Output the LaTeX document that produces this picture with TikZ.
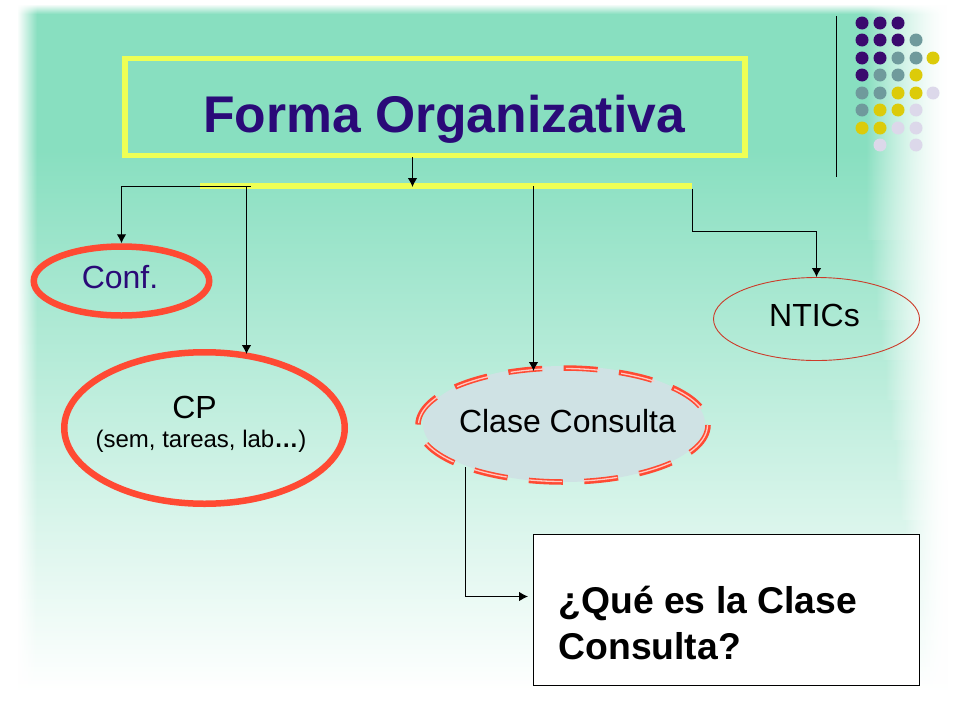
\documentclass[tikz,border=0pt]{standalone}
\usepackage{fontspec}
\setmainfont{Liberation Sans}
\usetikzlibrary{arrows.meta,shapes.geometric}
\definecolor{teal1}{HTML}{88DFC0}
\definecolor{yel}{HTML}{EEFF55}
\definecolor{red1}{HTML}{FF4A33}
\definecolor{navy1}{HTML}{2A0A78}
\definecolor{dA}{HTML}{3A0A6E}
\definecolor{dB}{HTML}{6F9A9C}
\definecolor{dC}{HTML}{DCCB0A}
\definecolor{dD}{HTML}{DCD8EA}
\definecolor{bub}{HTML}{CFE2E4}
\tikzset{
  link/.style={draw=black,line width=1pt},
  arr/.style={link,-{Latex[length=9pt,width=9.5pt]}},
  dotA/.style={circle,fill=dA,minimum size=13pt,inner sep=0pt},
  dotB/.style={circle,fill=dB,minimum size=13pt,inner sep=0pt},
  dotC/.style={circle,fill=dC,minimum size=13pt,inner sep=0pt},
  dotD/.style={circle,fill=dD,minimum size=13pt,inner sep=0pt},
  txt/.style={text=black,font=\fontsize{32}{36}\selectfont},
  dashring/.style={dash pattern=on 34pt off 21.5pt}
}
\begin{document}
\begin{tikzpicture}[x=1pt,y=-1pt]
\useasboundingbox (0,0) rectangle (960,720);
\fill[white] (0,0) rectangle (960,720);
% background
\fill[teal1] (0,0) rectangle (960,150);
\shade[top color=teal1,bottom color=white] (0,150) rectangle (960,692);
\fill[white] (0,691) rectangle (960,720);
% fades
\foreach \i in {0,...,19} {\pgfmathsetmacro{\op}{1-\i/20}\fill[white,opacity=\op] ({17+\i},0) rectangle ({18+\i},720);}
\fill[white] (0,0) rectangle (17,720);
\foreach \i in {0,...,9} {\pgfmathsetmacro{\op}{1-\i/10}\fill[white,opacity=\op] (0,{4+\i}) rectangle (960,{5+\i});}
\fill[white] (0,0) rectangle (960,4);
\foreach \b in {0,...,17} {
  \pgfmathsetmacro{\ya}{\b*40}
  \pgfmathsetmacro{\sx}{866+max(0,\ya-200)*0.12}
  \foreach \x in {866,...,950} {
    \pgfmathsetmacro{\tt}{max(0,min(1,(\x-\sx)/(948-\sx)))}
    \pgfmathsetmacro{\op}{1-(1-\tt)^1.6}
    \fill[white,opacity=\op] (\x,\ya) rectangle (\x+1,\ya+40);
  }
}
\fill[white] (950,0) rectangle (960,720);
% title
\node[draw=yel,line width=5.5pt,minimum width=620pt,minimum height=97pt,inner sep=0pt] (title) at (435,107) {};
\node[text=navy1,font=\bfseries\fontsize{51.6}{56}\selectfont] (ttxt) at (444,119) {Forma Organizativa};
\coordinate (barL) at (200,186);
\coordinate (barR) at (692,186);
\draw[yel,line width=5.5pt] (barL) -- (barR);
% right rule
\coordinate (ruleT) at (836.5,16);
\coordinate (ruleB) at (836.5,177);
\draw[black,line width=1pt] (ruleT) -- (ruleB);
% dots
\foreach \x/\y/\s in {862/23/A,880/23/A,898/23/A,
 862/40/A,880/40/A,898/40/A,916/40/B,
 862/58/A,880/58/A,898/58/B,916/58/B,933/58/C,
 862/75/A,880/75/B,898/75/B,916/75/C,
 862/93/B,880/93/B,898/93/C,916/93/C,933/93/D,
 862/110/B,880/110/C,898/110/C,916/110/D,
 862/128/C,880/128/C,898/128/D,916/128/D,
 880/145/D,916/145/D}
  \node[dot\s] (d\x\y) at (\x,\y) {};
% nodes
\node[ellipse,draw=red1,line width=6.5pt,minimum width=175.5pt,minimum height=69pt,inner sep=0pt] (conf) at (121.5,281) {};
\node[text=navy1,font=\fontsize{32}{36}\selectfont] (conft) at (120,277) {Conf.};
\node[ellipse,draw=red1,line width=6.5pt,minimum width=280.5pt,minimum height=151.5pt,inner sep=0pt] (cp) at (204.5,428) {};
\node[txt] (cpt) at (194.5,407) {CP};
\node[font=\fontsize{24}{28}\selectfont] (cps) at (201,441) {(sem, tareas, lab\textbf{\ldots})};
\node[ellipse,fill=bub,minimum width=282pt,minimum height=116pt,inner sep=0pt] (cc) at (564,424) {};
\draw[shift={(563,425)},yscale=-1,red1,line width=5.5pt,dashring] (0,0) ellipse [x radius=145pt,y radius=57pt];
\draw[shift={(563,425)},yscale=-1,white!70!red1,line width=1.3pt,dashring] (0,0) ellipse [x radius=144.5pt,y radius=56.5pt];
\node[txt] (cct) at (567.5,421) {Clase Consulta};
\node[ellipse,draw=red1!80!black,line width=0.9pt,minimum width=206pt,minimum height=83pt,inner sep=0pt] (nt) at (816.5,319) {};
\node[txt] (ntt) at (814.5,315) {NTICs};
\node[draw=black,fill=white,line width=1pt,minimum width=386pt,minimum height=151pt,inner sep=0pt] (q) at (726,610) {};
\node[text=black,align=left,anchor=west,font=\bfseries\fontsize{37.3}{46}\selectfont] (qt) at (555,623) {¿Qué es la Clase\\Consulta?};
% connectors
\coordinate (c1) at (250.5,186.5);
\coordinate (c2) at (121.5,186.5);
\coordinate (c3) at (246.5,186.5);
\coordinate (c4) at (692.5,188.5);
\coordinate (c5) at (412.5,157);
\coordinate (c6) at (412.5,187);
\coordinate (c7) at (533.5,186);
\coordinate (c8) at (533.5,371);
\coordinate (c9) at (246.5,354);
\coordinate (c10) at (465.5,467);
\coordinate (c11) at (528,596.5);
\coordinate (c12) at (692.5,231.5);
\coordinate (c13) at (816.5,231.5);
\coordinate (c14) at (465.5,596.5);
\draw[arr] (c1) -- (c2) -- (conf.north);
\draw[arr] (c3) -- (c9);
\draw[arr] (c5) -- (c6);
\draw[arr] (c7) -- (c8);
\draw[arr] (c4) -- (c12) -- (c13) -- (nt.north);
\draw[arr] (c10) -- (c14) -- (c11);
\end{tikzpicture}
\end{document}
